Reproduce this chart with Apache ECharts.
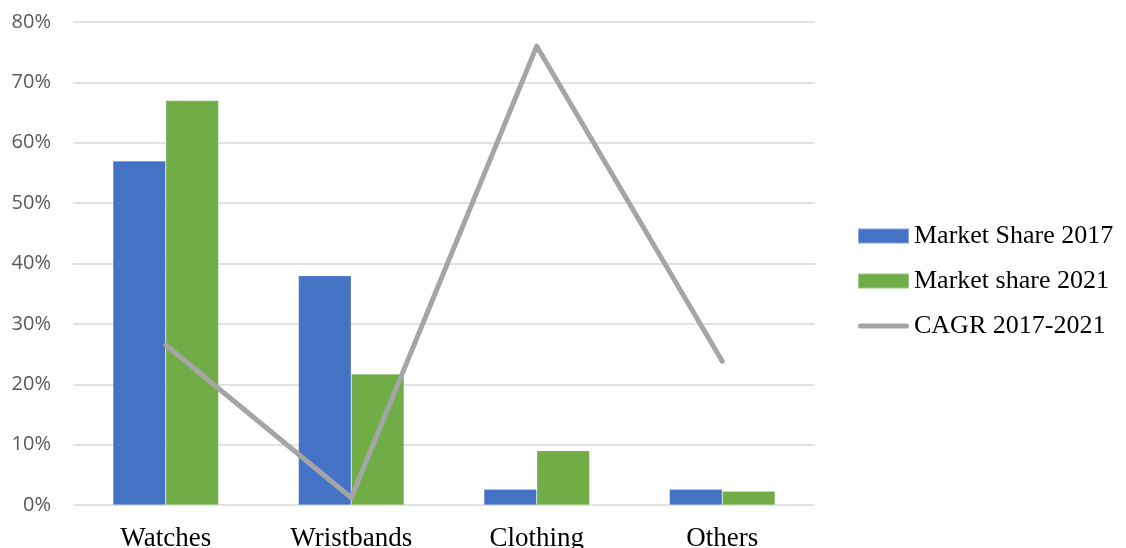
<!DOCTYPE html>
<html>
<head>
<meta charset="utf-8">
<style>
  html, body { margin: 0; padding: 0; background: #fff; }
  #chart { width: 1126px; height: 548px; }
</style>
<script src="https://cdn.jsdelivr.net/npm/echarts@6/dist/echarts.min.js"></script>
</head>
<body>
<div id="chart"></div>
<script>
// Wearables segments and their shares (%)
const categories = ['Watches', 'Wristbands', 'Clothing', 'Others'];
const share2017 = [57, 38, 2.6, 2.6];
const share2021 = [67, 21.7, 9, 2.3];
const cagr = [26.5, 1.2, 76, 23.8];
const seriesNames = ['Market Share 2017', 'Market share 2021', 'CAGR 2017-2021'];

const chart = echarts.init(document.getElementById('chart'), null, { renderer: 'canvas' });

const serif = '"Liberation Serif", "Times New Roman", serif';
// thick rounded bar used as the line series' legend key
const lineKey = 'path://M2.5,0 L48.5,0 A2.5,2.5 0 0 1 48.5,5 L2.5,5 A2.5,2.5 0 0 1 2.5,0 Z';

chart.setOption({
  animation: false,
  backgroundColor: '#ffffff',
  grid: { left: 73, right: 311, top: 22, bottom: 43, containLabel: false, outerBoundsMode: 'none' },
  legend: {
    orient: 'vertical',
    left: 857,
    top: 223,
    padding: 0,
    itemWidth: 51,
    itemHeight: 15,
    itemGap: 19,
    textStyle: { fontFamily: serif, fontSize: 26, color: '#000' },
    data: [
      { name: seriesNames[0], icon: 'rect' },
      { name: seriesNames[1], icon: 'rect' },
      { name: seriesNames[2], icon: lineKey, itemStyle: { color: '#a5a5a5' } }
    ]
  },
  xAxis: {
    type: 'category',
    data: categories,
    axisLine: { show: false },
    axisTick: { show: false },
    axisLabel: { fontFamily: serif, fontSize: 27, color: '#000', margin: 20 }
  },
  yAxis: {
    type: 'value',
    min: 0,
    max: 80,
    interval: 10,
    axisLine: { show: false },
    axisTick: { show: false },
    axisLabel: {
      formatter: '{value}%',
      fontFamily: '"Open Sans", "Noto Sans", sans-serif',
      fontSize: 20,
      color: '#595959',
      margin: 22
    },
    splitLine: { lineStyle: { color: '#d9d9d9', width: 1.5 } }
  },
  series: [
    {
      name: seriesNames[0],
      type: 'bar',
      data: share2017,
      barGap: '0%',
      barCategoryGap: '43%',
      itemStyle: { color: '#4472c4', borderColor: 'rgba(255,255,255,0.35)', borderWidth: 0.6 }
    },
    {
      name: seriesNames[1],
      type: 'bar',
      data: share2021,
      barGap: '0%',
      barCategoryGap: '43%',
      itemStyle: { color: '#70ad47', borderColor: 'rgba(255,255,255,0.35)', borderWidth: 0.6 }
    },
    {
      name: seriesNames[2],
      type: 'line',
      data: cagr,
      symbol: 'none',
      itemStyle: { color: '#a5a5a5' },
      lineStyle: { color: '#a5a5a5', width: 5, cap: 'round', join: 'round' },
      z: 5
    }
  ]
});
</script>
</body>
</html>
